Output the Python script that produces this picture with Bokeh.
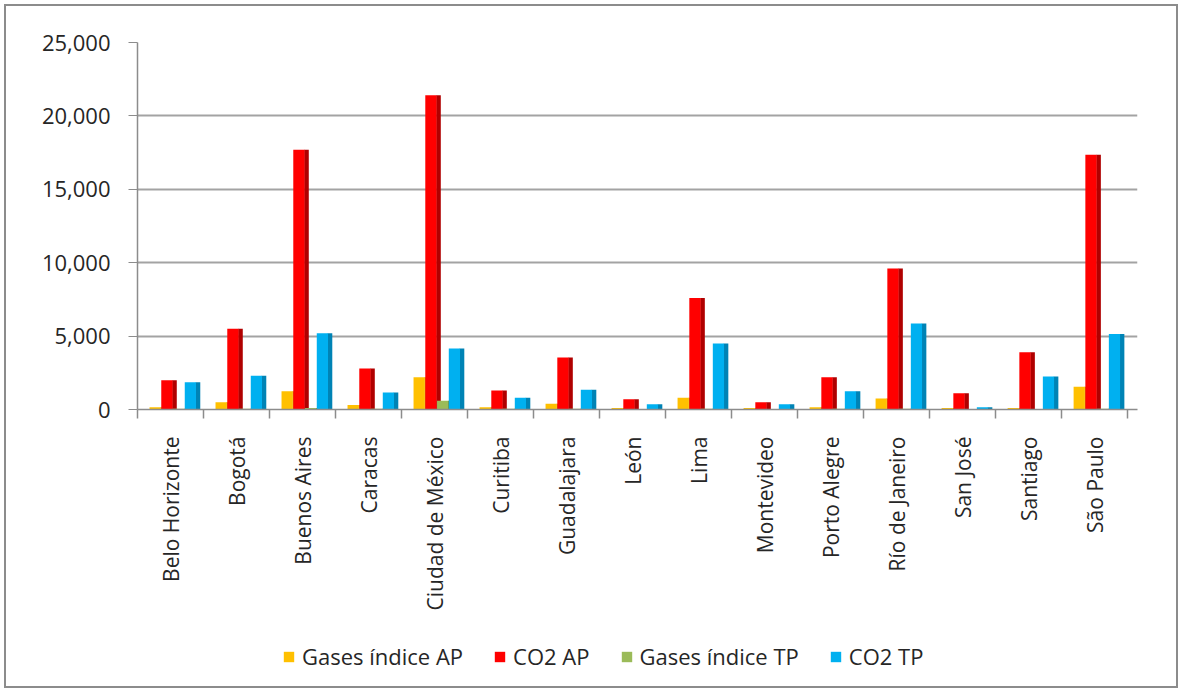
import numpy as np
from bokeh.plotting import figure
from bokeh.layouts import column
from bokeh.models import ColumnDataSource, FixedTicker, NumeralTickFormatter, Legend, LegendItem, Range1d
from bokeh.embed import file_html
from bokeh.resources import INLINE

cities = ["Belo Horizonte", "Bogotá", "Buenos Aires", "Caracas", "Ciudad de México",
          "Curitiba", "Guadalajara", "León", "Lima", "Montevideo", "Porto Alegre",
          "Río de Janeiro", "San José", "Santiago", "São Paulo"]

gases_indice_ap = [150, 500, 1250, 300, 2200, 150, 400, 100, 800, 100, 150, 750, 100, 100, 1550]
co2_ap = [2000, 5500, 17700, 2800, 21400, 1300, 3550, 700, 7600, 500, 2200, 9600, 1100, 3900, 17350]
gases_indice_tp = [50, 50, 100, 50, 600, 50, 50, 20, 50, 20, 50, 50, 20, 20, 50]
co2_tp = [1850, 2300, 5200, 1150, 4150, 800, 1350, 350, 4500, 350, 1250, 5850, 150, 2250, 5150]

series_names = ["Gases índice AP", "CO2 AP", "Gases índice TP", "CO2 TP"]
series_values = [gases_indice_ap, co2_ap, gases_indice_tp, co2_tp]
front_colors = ["#FFC000", "#FF0000", "#9BBB59", "#00B0F0"]
side_colors = ["#C99700", "#B00000", "#6E8A3A", "#0083B5"]

TEXT = "#262626"
FONT = "Open Sans"

p = figure(width=1170, height=620, output_backend="svg", toolbar_location=None,
           x_range=Range1d(0, 15.15), y_range=Range1d(0, 25000),
           min_border_left=131, min_border_right=39, min_border_top=36, min_border_bottom=217)
p.outline_line_color = None
p.background_fill_color = "white"
p.border_fill_color = "white"

idx = np.arange(len(cities))
step = 0.178
first_center = 0.297
face_w = 0.17
side_w = 0.065

for k, (name, vals) in enumerate(zip(series_names, series_values)):
    center = idx + first_center + k * step
    left = center - 0.115
    src = ColumnDataSource(dict(
        fl=left, fr=left + face_w, sl=left + face_w - 0.005, sr=left + face_w + side_w,
        top=np.array(vals, dtype=float), bottom=np.zeros(len(vals))))
    p.quad(left="sl", right="sr", bottom="bottom", top="top", source=src,
           fill_color=side_colors[k], line_color=None)
    p.quad(left="fl", right="fr", bottom="bottom", top="top", source=src,
           fill_color=front_colors[k], line_color=None)

# axes
p.xaxis.ticker = FixedTicker(ticks=list(idx + 0.5), minor_ticks=list(np.arange(len(cities) + 1)))
p.xaxis.major_label_overrides = {float(i + 0.5): c for i, c in enumerate(cities)}
p.xaxis.major_label_orientation = np.pi / 2
p.xaxis.major_tick_line_color = None
p.xaxis.minor_tick_line_color = "#8c8c8c"
p.xaxis.minor_tick_line_width = 1.5
p.xaxis.minor_tick_out = 9
p.xaxis.minor_tick_in = 0
p.xaxis.major_label_standoff = 18
p.xaxis.major_label_text_font = FONT
p.xaxis.major_label_text_font_size = "21px"
p.xaxis.major_label_text_color = TEXT
p.xaxis.axis_line_color = "#8c8c8c"
p.xaxis.axis_line_width = 1.5

p.yaxis.ticker = FixedTicker(ticks=[0, 5000, 10000, 15000, 20000, 25000])
p.yaxis.formatter = NumeralTickFormatter(format="0,0")
p.yaxis.major_label_text_font = FONT
p.yaxis.major_label_text_font_size = "22px"
p.yaxis.major_label_text_color = TEXT
p.yaxis.major_tick_out = 9
p.yaxis.major_tick_in = 0
p.yaxis.major_tick_line_color = "#8c8c8c"
p.yaxis.major_label_standoff = 18
p.yaxis.minor_tick_line_color = None
p.yaxis.axis_line_color = "#8c8c8c"
p.yaxis.axis_line_width = 1.5

p.xgrid.grid_line_color = None
p.ygrid.grid_line_color = "#a3a3a3"
p.ygrid.grid_line_width = 2

# legend strip
q = figure(width=1170, height=60, output_backend="svg", toolbar_location=None,
           x_range=Range1d(0, 1), y_range=Range1d(0, 1),
           min_border_left=0, min_border_right=0, min_border_top=0, min_border_bottom=0)
q.axis.visible = False
q.grid.grid_line_color = None
q.outline_line_color = None
q.border_fill_color = "white"
items = []
for k, name in enumerate(series_names):
    # swatch renderer kept outside the visible range; only used for the legend glyph
    r = q.quad(left=[5], right=[6], bottom=[5], top=[6], fill_color=front_colors[k], line_color=None)
    items.append(LegendItem(label=name, renderers=[r]))
legend = Legend(items=items, orientation="horizontal", location=(145, 15),
                padding=0, margin=0, spacing=30, label_standoff=7,
                glyph_width=13, glyph_height=13,
                label_text_font=FONT, label_text_font_size="22px", label_text_color=TEXT,
                border_line_color=None, background_fill_alpha=0)
q.add_layout(legend, "center")

layout = column(p, q, spacing=0)
layout.styles = {"border": "2px solid #8c8c8c", "margin": "4px"}

open("out.html", "w").write(file_html(layout, INLINE))
